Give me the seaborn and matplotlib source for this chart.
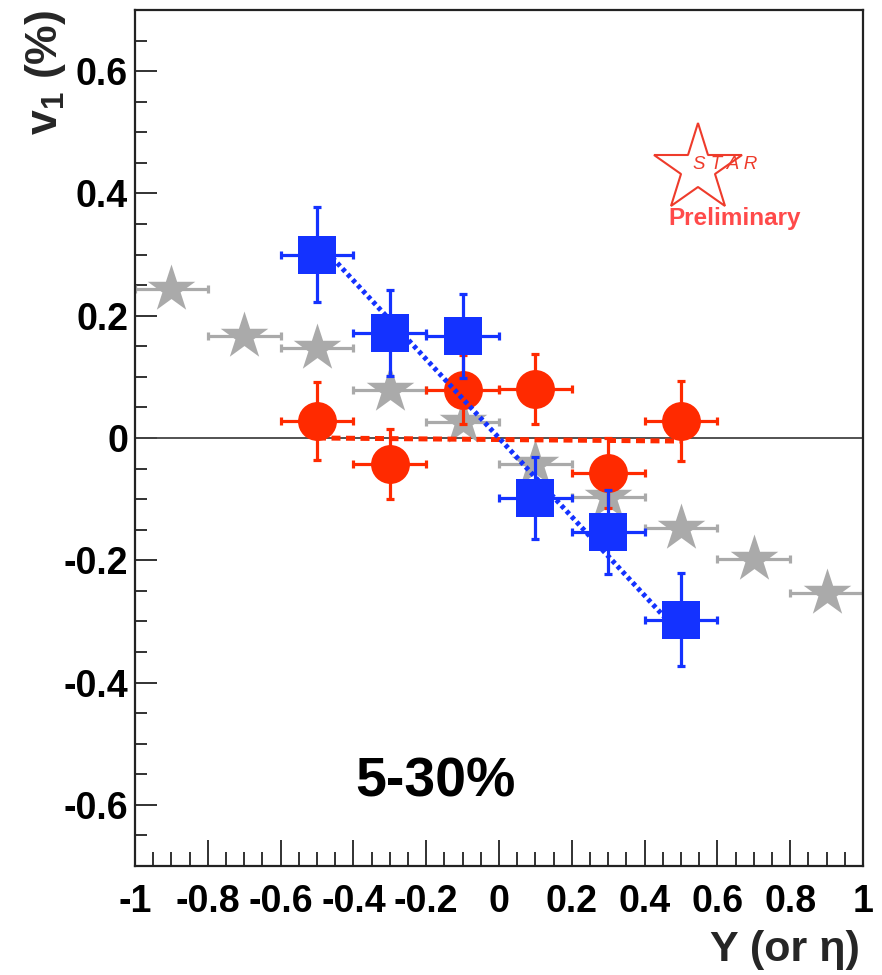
import numpy as np
import matplotlib
matplotlib.use("Agg")
import matplotlib.pyplot as plt
from matplotlib.ticker import MultipleLocator
import seaborn as sns

# ---------------- data ----------------
blue_x = [-0.5, -0.3, -0.1, 0.1, 0.3, 0.5]
blue_y = [0.300, 0.172, 0.167, -0.098, -0.154, -0.297]
blue_yerr = [0.077, 0.070, 0.069, 0.067, 0.069, 0.076]
blue_xerr = [0.1, 0.1, 0.1, 0.1, 0.1, 0.1]

red_x = [-0.5, -0.3, -0.1, 0.1, 0.3, 0.5]
red_y = [0.028, -0.043, 0.079, 0.080, -0.057, 0.028]
red_yerr = [0.064, 0.057, 0.056, 0.057, 0.057, 0.065]
red_xerr = [0.1, 0.1, 0.1, 0.1, 0.1, 0.1]

gray_x = [-0.9, -0.7, -0.5, -0.3, -0.1, 0.1, 0.3, 0.5, 0.7, 0.9]
gray_y = [0.243, 0.167, 0.148, 0.079, 0.026, -0.043, -0.097, -0.148, -0.198, -0.254]
gray_xerr = [0.1] * 10

fit_x = [-0.5, 0.5]
blue_fit_y = [0.322, -0.322]
red_fit_y = [0.0, -0.005]

xtick_vals = [-1, -0.8, -0.6, -0.4, -0.2, 0, 0.2, 0.4, 0.6, 0.8, 1]
xtick_labels = ["-1", "-0.8", "-0.6", "-0.4", "-0.2", "0", "0.2", "0.4", "0.6", "0.8", "1"]
ytick_vals = [-0.6, -0.4, -0.2, 0, 0.2, 0.4, 0.6]
ytick_labels = ["-0.6", "-0.4", "-0.2", "0", "0.2", "0.4", "0.6"]

centrality_label = "5-30%"
x_title = "Y (or η)"
y_title = r"$\mathbf{v}_{\mathbf{1}}$ (%)"

# ---------------- style ----------------
sns.set_theme(style="ticks")
plt.rcParams["font.family"] = ["Liberation Sans", "DejaVu Sans"]
plt.rcParams["mathtext.fontset"] = "custom"
plt.rcParams["mathtext.bf"] = "Liberation Sans:bold"
plt.rcParams["mathtext.rm"] = "Liberation Sans"

BLUE = "#1432ff"
RED = "#ff2a00"
GRAY = "#aaaaaa"
LOGO = "#ee3b2b"

fig = plt.figure(figsize=(8.82, 9.75), dpi=100)
W, H = 882, 975
L, R, T, B = 135, 863, 10, 866
ax = fig.add_axes([L / W, 1 - B / H, (R - L) / W, (B - T) / H])

ax.set_xlim(-1, 1)
ax.set_ylim(-0.7, 0.7)

ax.axhline(0, color="#444444", lw=1.3, zorder=1)

# gray stars
ax.errorbar(gray_x, gray_y, xerr=gray_xerr, fmt="none", ecolor=GRAY,
            elinewidth=2.3, capsize=3, capthick=2.3, zorder=2)
sns.scatterplot(x=gray_x, y=gray_y, marker="*", s=36**2, color=GRAY,
                linewidth=0, ax=ax, zorder=2.1, legend=False)

# red circles
ax.errorbar(red_x, red_y, xerr=red_xerr, yerr=red_yerr, fmt="none", ecolor=RED,
            elinewidth=2.3, capsize=3, capthick=2.3, zorder=3)
sns.scatterplot(x=red_x, y=red_y, marker="o", s=28**2, color=RED,
                linewidth=0, ax=ax, zorder=3.1, legend=False)

# fit lines
ax.plot(fit_x, red_fit_y, color=RED, lw=3.6, linestyle=(0, (1.8, 1.1)), zorder=3.5)
ax.plot(fit_x, blue_fit_y, color=BLUE, lw=3.6, linestyle=(0, (0.8, 0.7)), zorder=3.6)

# blue squares
ax.errorbar(blue_x, blue_y, xerr=blue_xerr, yerr=blue_yerr, fmt="none", ecolor=BLUE,
            elinewidth=2.3, capsize=3, capthick=2.3, zorder=4)
sns.scatterplot(x=blue_x, y=blue_y, marker="s", s=27.5**2, color=BLUE,
                linewidth=0, ax=ax, zorder=4.1, legend=False)

# ticks
ax.set_xticks(xtick_vals, xtick_labels)
ax.set_yticks(ytick_vals, ytick_labels)
ax.xaxis.set_minor_locator(MultipleLocator(0.05))
ax.yaxis.set_minor_locator(MultipleLocator(0.05))
ax.tick_params(axis="x", which="major", direction="in", length=19, width=1.3,
               pad=13, labelsize=27, colors="#222222", labelcolor="black")
ax.tick_params(axis="x", which="minor", direction="in", length=10, width=1.3,
               colors="#222222")
ax.tick_params(axis="y", which="major", direction="in", length=16, width=1.3,
               pad=5, labelsize=27, colors="#222222", labelcolor="black")
ax.tick_params(axis="y", which="minor", direction="in", length=8.6, width=1.3,
               colors="#222222")
for lab in ax.get_xticklabels() + ax.get_yticklabels():
    lab.set_fontweight("bold")
ax.tick_params(top=False, right=False, which="both")
for sp in ax.spines.values():
    sp.set_visible(True)
    sp.set_color("#222222")
    sp.set_linewidth(1.6)
ax.grid(False)
ax.set_xlabel("")
ax.set_ylabel("")

# titles
fig.text(860 / W, 1 - 950 / H, x_title, ha="right", va="center",
         fontsize=31, fontweight="bold")
fig.text(45 / W, 1 - 10 / H, y_title, ha="center", va="top", rotation=90,
         fontsize=32, fontweight="bold")

# annotations
ax.text(0.413, 0.097, centrality_label, transform=ax.transAxes, ha="center",
        va="center", fontsize=40, fontweight="bold", color="black")

ax.plot([0.773], [0.814], transform=ax.transAxes, marker="*", ms=66,
        mfc="none", mec=LOGO, mew=1.5, clip_on=False, zorder=5)
ax.text(0.810, 0.819, "S T A R", transform=ax.transAxes, ha="center",
        va="center", fontsize=13.5, fontstyle="italic", color=LOGO, zorder=6)
ax.text(0.824, 0.756, "Preliminary", transform=ax.transAxes, ha="center",
        va="center", fontsize=17.5, fontweight="bold", color="#ff4a4a", zorder=6)

fig.savefig("out.png", dpi=100)
